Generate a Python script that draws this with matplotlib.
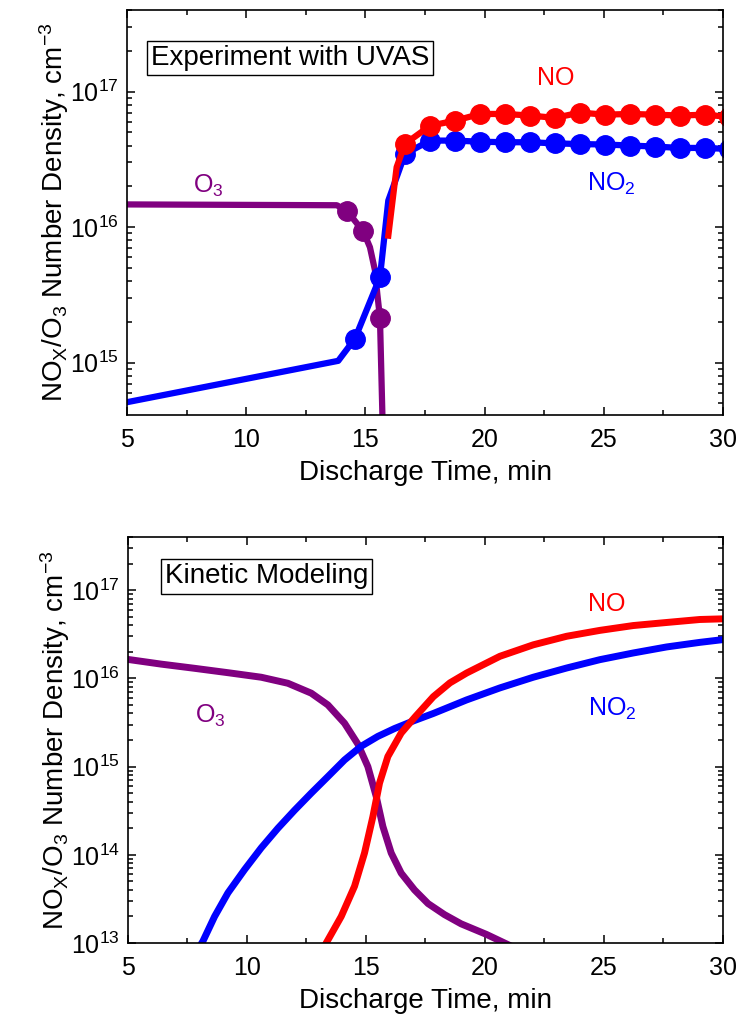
import matplotlib
matplotlib.use("Agg")
import matplotlib.pyplot as plt
from matplotlib.ticker import LogLocator, MultipleLocator, NullFormatter

plt.rcParams['font.family'] = ['Liberation Sans', 'DejaVu Sans']
plt.rcParams['mathtext.fontset'] = 'custom'
plt.rcParams['mathtext.rm'] = 'Liberation Sans'
plt.rcParams['mathtext.it'] = 'Liberation Sans:italic'
plt.rcParams['mathtext.bf'] = 'Liberation Sans:bold'

RED = '#FF0000'
BLUE = '#0000FF'
PURPLE = '#800080'

# ---------------- Experiment (UVAS) ----------------
o3_exp_line_t = [5, 13.8, 14.22, 14.91, 15.19, 15.40, 15.50, 15.61, 15.8]
o3_exp_line_v = [1.47e16, 1.45e16, 1.32e16, 9.3e15, 7.1e15, 4.8e15, 3.2e15, 2.14e15, 1e14]
o3_exp_mark_t = [14.22, 14.91, 15.61]
o3_exp_mark_v = [1.32e16, 9.3e15, 2.14e15]

no2_exp_line_t = [5, 13.86, 14.56, 15.61, 15.96, 16.66, 17.71, 18.76, 19.81, 20.86,
                  21.90, 22.95, 24.0, 25.05, 26.10, 27.15, 28.20, 29.25, 30.25]
no2_exp_line_v = [5.1e14, 1.03e15, 1.5e15, 4.27e15, 1.57e16, 3.47e16, 4.35e16, 4.35e16,
                  4.27e16, 4.23e16, 4.23e16, 4.15e16, 4.1e16, 4.07e16, 4.0e16, 3.93e16,
                  3.84e16, 3.84e16, 3.77e16]
no2_exp_mark_t = [14.56, 15.61, 16.66, 17.71, 18.76, 19.81, 20.86, 21.90, 22.95,
                  24.0, 25.05, 26.10, 27.15, 28.20, 29.25, 30.25]
no2_exp_mark_v = [1.5e15, 4.27e15, 3.47e16, 4.35e16, 4.35e16, 4.27e16, 4.23e16, 4.23e16,
                  4.15e16, 4.1e16, 4.07e16, 4.0e16, 3.93e16, 3.84e16, 3.84e16, 3.77e16]

no_exp_line_t = [15.96, 16.31, 16.66, 17.71, 18.76, 19.81, 20.86, 21.90, 22.95, 24.0,
                 25.05, 26.10, 27.15, 28.20, 29.25, 30.25]
no_exp_line_v = [8.65e15, 2.77e16, 4.11e16, 5.6e16, 6.1e16, 6.84e16, 6.84e16, 6.66e16,
                 6.4e16, 7.0e16, 6.76e16, 6.84e16, 6.76e16, 6.66e16, 6.76e16, 6.5e16]
no_exp_mark_t = [16.66, 17.71, 18.76, 19.81, 20.86, 21.90, 22.95, 24.0, 25.05,
                 26.10, 27.15, 28.20, 29.25, 30.25]
no_exp_mark_v = [4.11e16, 5.6e16, 6.1e16, 6.84e16, 6.84e16, 6.66e16, 6.4e16, 7.0e16,
                 6.76e16, 6.84e16, 6.76e16, 6.66e16, 6.76e16, 6.5e16]

# ---------------- Kinetic modeling ----------------
o3_mod_t = [5, 6.4, 7.8, 9.2, 10.6, 11.72, 12.7, 13.4, 14.1, 14.66, 15.08, 15.43,
            15.71, 16.06, 16.48, 17.04, 17.61, 18.3, 19.0, 20.07, 21.0]
o3_mod_v = [1.64e16, 1.45e16, 1.30e16, 1.16e16, 1.03e16, 8.8e15, 6.8e15, 5.0e15, 3.1e15,
            1.8e15, 1.0e15, 4.6e14, 2.1e14, 1.05e14, 6.2e13, 4.0e13, 2.8e13, 2.1e13,
            1.65e13, 1.25e13, 9.5e12]

no2_mod_t = [8.0, 8.15, 8.64, 9.2, 9.9, 10.6, 11.3, 12.0, 12.7, 13.4, 14.1, 14.8, 15.5,
             16.2, 17.0, 17.83, 19.23, 20.63, 22.03, 23.43, 24.83, 26.23, 27.63, 29.03, 30]
no2_mod_v = [9e12, 1.05e13, 2.0e13, 3.7e13, 6.8e13, 1.2e14, 2.0e14, 3.2e14, 5.0e14,
             7.7e14, 1.19e15, 1.7e15, 2.2e15, 2.7e15, 3.3e15, 4.0e15, 5.7e15, 7.8e15,
             1.03e16, 1.31e16, 1.63e16, 1.94e16, 2.27e16, 2.56e16, 2.75e16]

no_mod_t = [13.25, 13.33, 13.96, 14.52, 14.94, 15.29, 15.57, 15.92, 16.48, 17.08, 17.83,
            18.53, 19.23, 20.63, 22.03, 23.43, 24.83, 26.23, 27.63, 29.03, 30]
no_mod_v = [9e12, 1.0e13, 2.0e13, 4.4e13, 1.05e14, 2.7e14, 6.5e14, 1.3e15, 2.4e15,
            3.7e15, 6.2e15, 8.9e15, 1.15e16, 1.78e16, 2.4e16, 3.0e16, 3.5e16, 3.97e16,
            4.3e16, 4.65e16, 4.73e16]

xlabel = 'Discharge Time, min'
ylabel = r'NO$_\mathrm{X}$/O$_3$ Number Density, cm$^{-3}$'

fig = plt.figure(figsize=(7.38, 10.15), dpi=100)
ax1 = fig.add_axes([0.1721, 0.5911, 0.8076, 0.3990])
ax2 = fig.add_axes([0.1734, 0.0709, 0.8062, 0.4000])


def style(ax, ymin, ymax):
    ax.set_yscale('log')
    ax.set_xlim(5, 30)
    ax.set_ylim(ymin, ymax)
    ax.xaxis.set_major_locator(MultipleLocator(5))
    ax.xaxis.set_minor_locator(MultipleLocator(2.5))
    ax.yaxis.set_major_locator(LogLocator(base=10, numticks=20))
    ax.yaxis.set_minor_locator(LogLocator(base=10, subs=range(2, 10), numticks=20))
    ax.yaxis.set_minor_formatter(NullFormatter())
    ax.tick_params(which='both', direction='in', top=True, right=True, width=1.1,
                   labelsize=18)
    ax.tick_params(which='major', length=6)
    ax.tick_params(which='minor', length=3.5)
    ax.tick_params(axis='x', pad=9)
    ax.tick_params(axis='y', pad=6)
    for s in ax.spines.values():
        s.set_linewidth(1.2)
    ax.set_xlabel(xlabel, fontsize=20, labelpad=6)
    ax.set_ylabel(ylabel, fontsize=20, labelpad=-1)


# top panel
lw1 = 4.5
ms = 14
ax1.plot(o3_exp_line_t, o3_exp_line_v, color=PURPLE, lw=lw1)
ax1.plot(o3_exp_mark_t, o3_exp_mark_v, 'o', color=PURPLE, ms=ms)
ax1.plot(no2_exp_line_t, no2_exp_line_v, color=BLUE, lw=lw1)
ax1.plot(no2_exp_mark_t, no2_exp_mark_v, 'o', color=BLUE, ms=ms)
ax1.plot(no_exp_line_t, no_exp_line_v, color=RED, lw=lw1)
ax1.plot(no_exp_mark_t, no_exp_mark_v, 'o', color=RED, ms=ms)
style(ax1, 4.1e14, 4e17)

ax1.text(6.0, 1.78e17, 'Experiment with UVAS', fontsize=20, ha='left', va='center',
         bbox=dict(boxstyle='square,pad=0.15', fc='white', ec='black', lw=1.0))
ax1.text(23.0, 1.25e17, 'NO', color=RED, fontsize=18, ha='center', va='center')
ax1.text(24.3, 2.1e16, 'NO$_2$', color=BLUE, fontsize=18, ha='left', va='center')
ax1.text(7.77, 2.0e16, 'O$_3$', color=PURPLE, fontsize=18, ha='left', va='center')

# bottom panel
lw2 = 5
ax2.plot(o3_mod_t, o3_mod_v, color=PURPLE, lw=lw2)
ax2.plot(no2_mod_t, no2_mod_v, color=BLUE, lw=lw2)
ax2.plot(no_mod_t, no_mod_v, color=RED, lw=lw2)
style(ax2, 1e13, 4e17)

ax2.text(6.55, 1.43e17, 'Kinetic Modeling', fontsize=20, ha='left', va='center',
         bbox=dict(boxstyle='square,pad=0.15', fc='white', ec='black', lw=1.0))
ax2.text(25.13, 6.9e16, 'NO', color=RED, fontsize=18, ha='center', va='center')
ax2.text(24.33, 4.5e15, 'NO$_2$', color=BLUE, fontsize=18, ha='left', va='center')
ax2.text(7.82, 3.8e15, 'O$_3$', color=PURPLE, fontsize=18, ha='left', va='center')

fig.savefig('out.png', dpi=100)
